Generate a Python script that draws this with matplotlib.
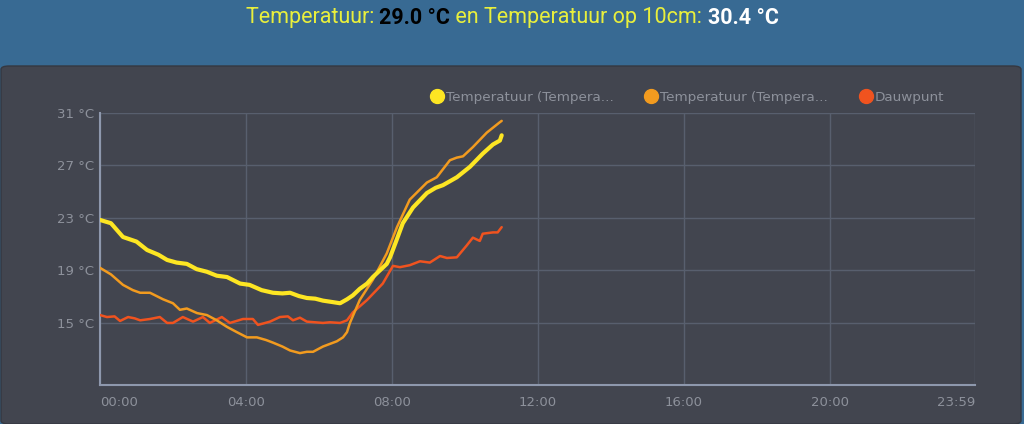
import matplotlib
matplotlib.use("Agg")
import matplotlib.pyplot as plt
from matplotlib.patches import FancyBboxPatch
from matplotlib.lines import Line2D

# ---- data (hours since midnight, °C) ----
temp_hours = [0.0, 0.3, 0.63, 1.0, 1.29, 1.6, 1.84, 2.1, 2.38, 2.65, 2.93, 3.2, 3.48,
              3.84, 4.1, 4.43, 4.74, 5.0, 5.21, 5.45, 5.67, 5.9, 6.11, 6.35, 6.58,
              6.77, 6.93, 7.12, 7.32, 7.48, 7.67, 7.86, 7.95, 8.1, 8.3, 8.58, 8.96,
              9.2, 9.4, 9.78, 10.14, 10.49, 10.77, 10.96, 11.01]
temp_values = [22.85, 22.6, 21.55, 21.2, 20.56, 20.2, 19.8, 19.6, 19.5, 19.1, 18.9, 18.6, 18.5,
               18.0, 17.9, 17.5, 17.3, 17.25, 17.3, 17.05, 16.9, 16.85, 16.7, 16.6, 16.5,
               16.8, 17.1, 17.6, 18.0, 18.5, 19.0, 19.5, 20.0, 21.1, 22.6, 23.8, 24.9,
               25.3, 25.5, 26.1, 26.9, 27.9, 28.6, 28.9, 29.3]

soil_hours = [0.0, 0.3, 0.63, 0.9, 1.1, 1.37, 1.73, 2.0, 2.19, 2.38, 2.66, 2.93, 3.2,
              3.48, 3.75, 4.03, 4.30, 4.55, 4.74, 5.0, 5.21, 5.48, 5.67, 5.84, 6.11,
              6.3, 6.49, 6.66, 6.77, 6.85, 7.12, 7.48, 7.86, 8.14, 8.49, 8.96, 9.23,
              9.59, 9.78, 9.95, 10.22, 10.60, 10.96, 11.01]
soil_values = [19.2, 18.7, 17.9, 17.5, 17.3, 17.3, 16.8, 16.5, 16.0, 16.1, 15.75, 15.6, 15.2,
               14.7, 14.3, 13.9, 13.9, 13.7, 13.5, 13.2, 12.9, 12.7, 12.8, 12.8, 13.2,
               13.4, 13.6, 13.9, 14.3, 15.0, 16.75, 18.3, 20.3, 22.3, 24.4, 25.7, 26.1,
               27.4, 27.6, 27.7, 28.4, 29.5, 30.3, 30.4]

dew_hours = [0.0, 0.19, 0.4, 0.55, 0.77, 0.95, 1.10, 1.37, 1.64, 1.84, 2.0, 2.27, 2.55,
             2.82, 3.01, 3.34, 3.56, 3.92, 4.19, 4.33, 4.66, 4.93, 5.15, 5.29, 5.48,
             5.67, 6.11, 6.3, 6.58, 6.77, 6.93, 7.32, 7.75, 8.03, 8.22, 8.49, 8.77,
             9.04, 9.32, 9.51, 9.78, 10.05, 10.22, 10.41, 10.49, 10.77, 10.90, 11.01]
dew_values = [15.6, 15.45, 15.5, 15.15, 15.45, 15.35, 15.2, 15.3, 15.45, 15.0, 15.0, 15.45, 15.1,
              15.45, 15.0, 15.45, 15.0, 15.3, 15.3, 14.85, 15.1, 15.45, 15.5, 15.2, 15.4,
              15.1, 15.0, 15.05, 15.0, 15.2, 15.8, 16.75, 18.0, 19.35, 19.25, 19.4, 19.7,
              19.6, 20.1, 19.95, 20.0, 20.9, 21.5, 21.25, 21.8, 21.9, 21.9, 22.3]

series_names = ["Temperatuur (Tempera...", "Temperatuur (Tempera...", "Dauwpunt"]
series_colors = ["#fde623", "#f29b1f", "#f0531f"]
x_ticks = [0, 4, 8, 12, 16, 20, 23.983]
x_tick_labels = ["00:00", "04:00", "08:00", "12:00", "16:00", "20:00", "23:59"]
y_ticks = [15, 19, 23, 27, 31]
y_tick_labels = ["15 °C", "19 °C", "23 °C", "27 °C", "31 °C"]

# ---- figure ----
W, H = 1024, 424
fig = plt.figure(figsize=(W / 100, H / 100), dpi=100)
fig.patch.set_facecolor("#386a93")

panel = FancyBboxPatch((1 / W, 0), 1020 / W, 1 - 66 / H,
                       boxstyle="round,pad=0,rounding_size=0.008",
                       transform=fig.transFigure, facecolor="#42454f",
                       edgecolor="#353841", linewidth=1, zorder=-10)
fig.patches.append(panel)

# title composed of coloured pieces
title_parts = [("Temperatuur: ", "#e9ef3c", "normal"),
               ("29.0 °C", "#000000", "bold"),
               (" en Temperatuur op 10cm: ", "#e9ef3c", "normal"),
               ("30.4 °C", "#ffffff", "bold")]
renderer = fig.canvas.get_renderer()
texts = []
for s, c, w in title_parts:
    t = fig.text(0, 1 - 18 / H, s, color=c, fontsize=15.5, fontweight=w,
                 family="Roboto", va="center", ha="left")
    texts.append(t)
widths = [t.get_window_extent(renderer).width for t in texts]
total = sum(widths)
x0 = (W / 2 - total / 2)
for t, wd in zip(texts, widths):
    t.set_x(x0 / W)
    x0 += wd

ax = fig.add_axes([100 / W, 1 - 385 / H, 875 / W, (385 - 113) / H])
ax.set_zorder(1)
ax.set_facecolor("#42454f")
ax.plot(temp_hours, temp_values, color=series_colors[0], lw=3.0,
        solid_capstyle="round", solid_joinstyle="round", zorder=5)
ax.plot(soil_hours, soil_values, color=series_colors[1], lw=1.8,
        solid_capstyle="round", solid_joinstyle="round", zorder=4)
ax.plot(dew_hours, dew_values, color=series_colors[2], lw=1.8,
        solid_capstyle="round", solid_joinstyle="round", zorder=3)

ax.set_xlim(0, 23.983)
ax.set_ylim(10.27, 31)
ax.set_xticks(x_ticks)
ax.set_xticklabels(x_tick_labels)
ax.set_yticks(y_ticks)
ax.set_yticklabels(y_tick_labels)
ax.tick_params(colors="#8d919b", labelsize=9.5, length=0)
ax.tick_params(axis="x", pad=8)
ax.tick_params(axis="y", pad=4)
for lab in ax.get_xticklabels() + ax.get_yticklabels():
    lab.set_family("DejaVu Sans")
ax.get_xticklabels()[0].set_ha("left")
ax.get_xticklabels()[-1].set_ha("right")
ax.grid(True, color="#585f6e", lw=1)
ax.set_axisbelow(True)
for side in ["top", "right"]:
    ax.spines[side].set_visible(False)
for side in ["left", "bottom"]:
    ax.spines[side].set_color("#8e98ad")
    ax.spines[side].set_linewidth(1.5)

handles = [Line2D([], [], marker="o", ls="none", markersize=10,
                  markerfacecolor=c, markeredgecolor=c) for c in series_colors]
leg = fig.legend(handles, series_names, loc="center right",
                 bbox_to_anchor=(956 / W, 1 - 97 / H), ncol=3, frameon=False,
                 handlelength=1.0, handletextpad=0.15, columnspacing=2.3,
                 fontsize=9.7, labelcolor="#8d919b")

fig.savefig("out.png", dpi=100, facecolor=fig.get_facecolor())
